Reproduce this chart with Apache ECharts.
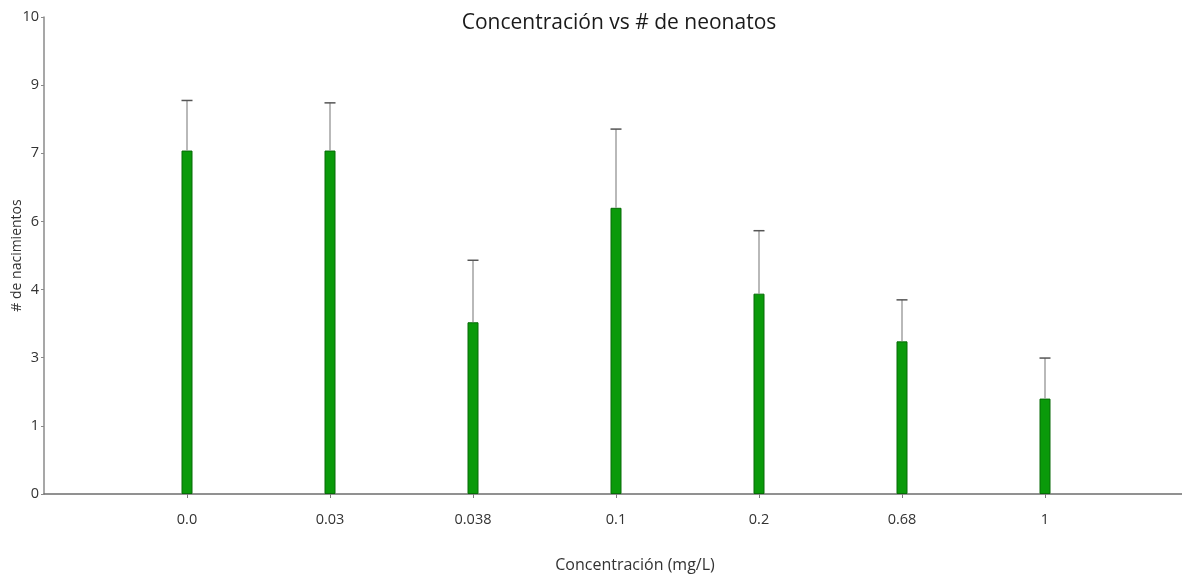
<!DOCTYPE html>
<html>
<head>
<meta charset="utf-8">
<script src="https://cdn.jsdelivr.net/npm/echarts@6/dist/echarts.min.js"></script>
<style>
html,body{margin:0;padding:0;background:#fff;}
#chart{width:1182px;height:575px;}
</style>
</head>
<body>
<div id="chart"></div>
<script>
// ---- data ----
const categories = ['0.0', '0.03', '0.038', '0.1', '0.2', '0.68', '1'];
const means = [7.2, 7.2, 3.6, 6.0, 4.2, 3.2, 2.0];
const errors = [1.05, 1.0, 1.3, 1.65, 1.32, 0.87, 0.85];
const yTickLabels = ['0', '1', '3', '4', '6', '7', '9', '10'];
const titleText = 'Concentración vs # de neonatos';
const xName = 'Concentración (mg/L)';
const yName = '# de nacimientos';

// padded category list so bars sit on ticks with half-gap at both ends
const axisCats = [''].concat(categories, ['']);
const barData = ['-'].concat(means, ['-']);
const errData = categories.map((c, i) => [i + 1, means[i], means[i] + errors[i]]);

const FONT = '"Open Sans", sans-serif';
const chart = echarts.init(document.getElementById('chart'));
chart.setOption({
  animation: false,
  backgroundColor: '#ffffff',
  title: {
    text: titleText,
    left: 614, top: 8, textAlign: 'center',
    textStyle: { fontFamily: FONT, fontSize: 21, fontWeight: 'normal', color: '#1a1a1a' }
  },
  grid: { left: 44, top: 17, width: 1144, height: 477, containLabel: false, outerBoundsMode: 'none' },
  xAxis: {
    type: 'category',
    data: axisCats,
    boundaryGap: false,
    axisLine: { lineStyle: { color: '#6e6e6e', width: 1.5 } },
    axisTick: { show: true, length: 4, lineStyle: { color: '#7a7a7a' }, interval: function (i) { return i > 0 && i < axisCats.length - 1; } },
    axisLabel: { margin: 18, fontFamily: FONT, fontSize: 14.5, color: '#333', interval: 0 },
    splitLine: { show: false },
    name: xName, nameLocation: 'middle', nameGap: 63, nameMoveOverlap: false,
    nameTextStyle: { fontFamily: FONT, fontSize: 16, color: '#333', padding: [0, 0, 0, 38] }
  },
  yAxis: [{
    type: 'value', min: 0, max: 10, show: false, position: 'left'
  }, {
    type: 'value', min: 0, max: 7, interval: 1, position: 'left',
    axisLine: { show: true, lineStyle: { color: '#8a8a8a', width: 1.5 } },
    axisTick: { show: true, length: 3, lineStyle: { color: '#8a8a8a' } },
    axisLabel: { margin: 5, fontFamily: FONT, fontSize: 14.5, color: '#333',
      formatter: function (v, i) { return yTickLabels[i]; } },
    splitLine: { show: false },
    name: yName, nameLocation: 'middle', nameGap: 20, nameRotate: 90, nameMoveOverlap: false,
    nameTextStyle: { fontFamily: FONT, fontSize: 14, color: '#333' }
  }],
  series: [{
    type: 'bar',
    yAxisIndex: 0,
    data: barData,
    barWidth: 11,
    itemStyle: { color: '#0a9a0a', borderColor: '#066b06', borderWidth: 1 }
  }, {
    type: 'custom',
    yAxisIndex: 0,
    data: errData,
    z: 3,
    renderItem: function (params, api) {
      const x = api.value(0);
      const p0 = api.coord([x, api.value(1)]);
      const p1 = api.coord([x, api.value(2)]);
      const hw = 5.5;
      return {
        type: 'group',
        children: [{
          type: 'line',
          shape: { x1: p0[0], y1: p0[1], x2: p1[0], y2: p1[1] },
          style: { stroke: '#8a8a8a', lineWidth: 1.2 }
        }, {
          type: 'line',
          shape: { x1: p1[0] - hw, y1: p1[1], x2: p1[0] + hw, y2: p1[1] },
          style: { stroke: '#555', lineWidth: 1.5 }
        }]
      };
    }
  }]
});
</script>
</body>
</html>
